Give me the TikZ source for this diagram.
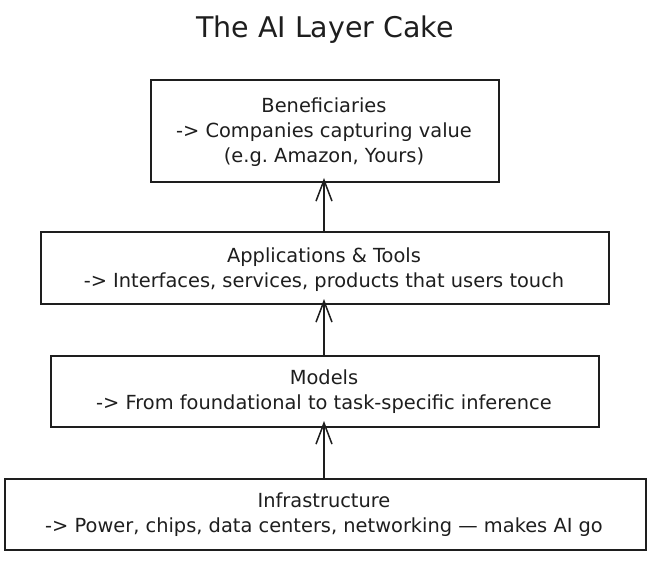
\documentclass[tikz,border=0pt]{standalone}
\usepackage{fontspec}
\setmainfont{DejaVu Sans}
\usetikzlibrary{arrows.meta}
\definecolor{ink}{HTML}{1E1E1E}
\frenchspacing
\begin{document}
\begin{tikzpicture}[x=1pt,y=-1pt,
  layer/.style={draw=ink,line width=1.6pt,fill=white},
  body/.style={text=ink,font=\fontsize{19.4}{25}\selectfont,align=center,anchor=center},
  up/.style={draw=ink,line width=1.6pt,-{Straight Barb[length=21pt,width=16pt,line width=1.5pt]}}]
\useasboundingbox (0,0) rectangle (653,561);
\fill[white] (0,0) rectangle (653,561);
\node[text=ink,font=\fontsize{28.5}{32}\selectfont] (title) at (325,30) {The AI Layer Cake};
\draw[layer] (151,80) rectangle (499,182);
\coordinate (b1b) at (324,182);
\node[body] (t1) at (324,132) {Beneficiaries\\-> Companies capturing value\\(e.g. Amazon, Yours)};
\draw[layer] (41,232) rectangle (609,304);
\coordinate (b2t) at (324,232);
\coordinate (b2b) at (324,304);
\node[body] (t2) at (324,269.5) {Applications \& Tools\\-> Interfaces, services, products that users touch};
\draw[layer] (51,356) rectangle (599,427);
\coordinate (b3t) at (324,356);
\coordinate (b3b) at (324,427);
\node[body] (t3) at (324,392) {Models\\-> From foundational to task-specific inference};
\draw[layer] (5,479) rectangle (646,550);
\coordinate (b4t) at (324,479);
\node[body] (t4) at (324,514.5) {Infrastructure\\-> Power, chips, data centers, networking — makes AI go};
\draw[up] (b2t) -- ([yshift=4pt]b1b);
\draw[up] (b3t) -- ([yshift=5pt]b2b);
\draw[up] (b4t) -- ([yshift=6pt]b3b);
\end{tikzpicture}
\end{document}
